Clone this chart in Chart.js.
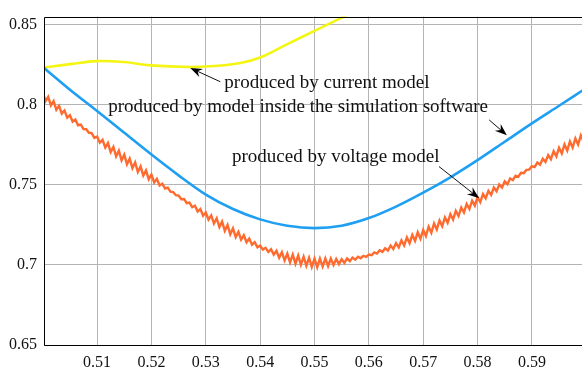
<!DOCTYPE html>
<html>
<head>
<meta charset="utf-8">
<script src="https://cdn.jsdelivr.net/npm/chart.js@4.4.1/dist/chart.umd.min.js"></script>
<style>
  html, body { margin: 0; padding: 0; background: #fff; }
</style>
</head>
<body>
<canvas id="chart" width="582" height="371"></canvas>
<script>
// axis ranges and ticks
const xMin = 0.50023, xMax = 0.59922;
const yMin = 0.65, yMax = 0.8552;
const xTicks = [0.51, 0.52, 0.53, 0.54, 0.55, 0.56, 0.57, 0.58, 0.59];
const yTicks = [0.65, 0.7, 0.75, 0.8, 0.85];

// yellow: current model
const currentX = [0.50023, 0.505, 0.51, 0.515, 0.5198, 0.5271, 0.5314, 0.5364, 0.54, 0.545, 0.55, 0.5553, 0.557];
const currentY = [0.8233, 0.8255, 0.8274, 0.8268, 0.8247, 0.8237, 0.8243, 0.8262, 0.8296, 0.8380, 0.8463, 0.8550, 0.8578];

// blue: model inside the simulation software
const simX = [0.50023, 0.505, 0.51, 0.515, 0.52, 0.525, 0.53, 0.535, 0.54, 0.545, 0.55, 0.555, 0.56, 0.565, 0.57, 0.575, 0.58, 0.585, 0.59, 0.595, 0.5993];
const simY = [0.8231, 0.8095, 0.7962, 0.7826, 0.7690, 0.7560, 0.7440, 0.7350, 0.7285, 0.7245, 0.7230, 0.7245, 0.7293, 0.7365, 0.7452, 0.7548, 0.7655, 0.7770, 0.7885, 0.7995, 0.8090];

// orange: voltage model (with ripple)
const voltX = [
  0.5000,0.5005,0.5010,0.5015,0.5020,0.5025,0.5030,0.5035,0.5040,0.5045,0.5050,0.5055,0.5060,0.5065,0.5070,0.5075,0.5080,0.5085,0.5090,0.5095,
  0.5100,0.5105,0.5110,0.5115,0.5120,0.5125,0.5130,0.5135,0.5140,0.5145,0.5150,0.5155,0.5160,0.5165,0.5170,0.5175,0.5180,0.5185,0.5190,0.5195,
  0.5200,0.5205,0.5210,0.5215,0.5220,0.5225,0.5230,0.5235,0.5240,0.5245,0.5250,0.5255,0.5260,0.5265,0.5270,0.5275,0.5280,0.5285,0.5290,0.5295,
  0.5300,0.5305,0.5310,0.5315,0.5320,0.5325,0.5330,0.5335,0.5340,0.5345,0.5350,0.5355,0.5360,0.5365,0.5370,0.5375,0.5380,0.5385,0.5390,0.5395,
  0.5400,0.5405,0.5410,0.5415,0.5420,0.5425,0.5430,0.5435,0.5440,0.5445,0.5450,0.5455,0.5460,0.5465,0.5470,0.5475,0.5480,0.5485,0.5490,0.5495,
  0.5500,0.5505,0.5510,0.5515,0.5520,0.5525,0.5530,0.5535,0.5540,0.5545,0.5550,0.5555,0.5560,0.5565,0.5570,0.5575,0.5580,0.5585,0.5590,0.5595,
  0.5600,0.5605,0.5610,0.5615,0.5620,0.5625,0.5630,0.5635,0.5640,0.5645,0.5650,0.5655,0.5660,0.5665,0.5670,0.5675,0.5680,0.5685,0.5690,0.5695,
  0.5700,0.5705,0.5710,0.5715,0.5720,0.5725,0.5730,0.5735,0.5740,0.5745,0.5750,0.5755,0.5760,0.5765,0.5770,0.5775,0.5780,0.5785,0.5790,0.5795,
  0.5800,0.5805,0.5810,0.5815,0.5820,0.5825,0.5830,0.5835,0.5840,0.5845,0.5850,0.5855,0.5860,0.5865,0.5870,0.5875,0.5880,0.5885,0.5890,0.5895,
  0.5900,0.5905,0.5910,0.5915,0.5920,0.5925,0.5930,0.5935,0.5940,0.5945,0.5950,0.5955,0.5960,0.5965,0.5970,0.5975,0.5980,0.5985,0.5990,0.5995
];
const voltY = [
  0.8078,0.8024,0.8051,0.7997,0.8024,0.7970,0.7994,0.7946,0.7965,0.7920,0.7936,0.7896,0.7908,0.7873,0.7877,0.7849,0.7848,0.7826,0.7824,0.7794,
  0.7802,0.7764,0.7782,0.7734,0.7762,0.7706,0.7738,0.7679,0.7714,0.7654,0.7689,0.7629,0.7665,0.7605,0.7641,0.7581,0.7616,0.7559,0.7591,0.7536,
  0.7565,0.7516,0.7538,0.7497,0.7508,0.7478,0.7483,0.7458,0.7455,0.7436,0.7433,0.7411,0.7412,0.7386,0.7390,0.7361,0.7370,0.7334,0.7349,0.7308,
  0.7328,0.7284,0.7310,0.7259,0.7291,0.7237,0.7271,0.7213,0.7250,0.7192,0.7229,0.7174,0.7207,0.7158,0.7186,0.7142,0.7165,0.7127,0.7143,0.7111,
  0.7121,0.7096,0.7107,0.7082,0.7098,0.7065,0.7089,0.7045,0.7080,0.7028,0.7071,0.7016,0.7065,0.7008,0.7059,0.7001,0.7052,0.6995,0.7045,0.6988,
  0.7039,0.6986,0.7040,0.6990,0.7041,0.6993,0.7040,0.7000,0.7037,0.7005,0.7036,0.7013,0.7041,0.7024,0.7046,0.7033,0.7052,0.7042,0.7057,0.7051,
  0.7065,0.7061,0.7079,0.7071,0.7092,0.7082,0.7105,0.7090,0.7121,0.7100,0.7136,0.7110,0.7154,0.7122,0.7172,0.7136,0.7188,0.7150,0.7204,0.7164,
  0.7219,0.7181,0.7239,0.7201,0.7259,0.7221,0.7278,0.7242,0.7297,0.7263,0.7317,0.7284,0.7338,0.7306,0.7359,0.7328,0.7381,0.7350,0.7402,0.7371,
  0.7424,0.7393,0.7443,0.7416,0.7463,0.7438,0.7484,0.7461,0.7503,0.7484,0.7522,0.7505,0.7540,0.7530,0.7558,0.7551,0.7576,0.7574,0.7594,0.7596,
  0.7617,0.7612,0.7640,0.7627,0.7664,0.7644,0.7687,0.7661,0.7711,0.7679,0.7732,0.7697,0.7753,0.7715,0.7772,0.7734,0.7791,0.7753,0.7810,0.7772
];

// annotation texts and arrows (data coordinates)
const notes = [
  { text: 'produced by current model', x: 0.53341, y: 0.8139, from: [0.53267, 0.8145], to: [0.52714, 0.8231] },
  { text: 'produced by model inside the simulation software', x: 0.51203, y: 0.79862, from: [0.58213, 0.79067], to: [0.58539, 0.78107] },
  { text: 'produced by voltage model', x: 0.53483, y: 0.76743, from: [0.57291, 0.76150], to: [0.58029, 0.74174] }
];

const pts = (xs, ys) => xs.map((x, i) => ({ x: x, y: ys[i] }));
const fmt = v => String(+v.toFixed(2));
const serif = '"Liberation Serif", "Times New Roman", serif';

// frame (top/left/bottom) + annotations
const extras = {
  id: 'extras',
  afterDraw(chart) {
    const ctx = chart.ctx;
    const a = chart.chartArea;
    const xs = chart.scales.x, ys = chart.scales.y;
    const l = Math.round(a.left) + 0.5, t = Math.round(a.top) + 0.5, b = Math.round(a.bottom) + 0.5;
    ctx.save();
    ctx.strokeStyle = '#000';
    ctx.lineWidth = 1;
    ctx.beginPath();
    ctx.moveTo(a.right, t);
    ctx.lineTo(l, t);
    ctx.lineTo(l, b);
    ctx.lineTo(a.right, b);
    ctx.stroke();

    ctx.font = '19px ' + serif;
    ctx.fillStyle = '#111';
    ctx.textBaseline = 'middle';
    ctx.textAlign = 'left';
    notes.forEach(n => {
      ctx.fillText(n.text, xs.getPixelForValue(n.x), ys.getPixelForValue(n.y));
      const x0 = xs.getPixelForValue(n.from[0]), y0 = ys.getPixelForValue(n.from[1]);
      const x1 = xs.getPixelForValue(n.to[0]), y1 = ys.getPixelForValue(n.to[1]);
      const ang = Math.atan2(y1 - y0, x1 - x0);
      ctx.beginPath();
      ctx.moveTo(x0, y0);
      ctx.lineTo(x1 - 6 * Math.cos(ang), y1 - 6 * Math.sin(ang));
      ctx.strokeStyle = '#111';
      ctx.lineWidth = 1;
      ctx.stroke();
      // arrow head
      ctx.save();
      ctx.translate(x1, y1);
      ctx.rotate(ang);
      ctx.beginPath();
      ctx.moveTo(0, 0);
      ctx.lineTo(-12, -4.5);
      ctx.lineTo(-8, 0);
      ctx.lineTo(-12, 4.5);
      ctx.closePath();
      ctx.fillStyle = '#000';
      ctx.fill();
      ctx.restore();
    });
    ctx.restore();
  }
};

new Chart(document.getElementById('chart'), {
  type: 'line',
  data: {
    datasets: [
      {
        label: 'voltage model',
        data: pts(voltX, voltY),
        borderColor: '#ff6a2e',
        borderWidth: 2.4,
        pointRadius: 0,
        tension: 0
      },
      {
        label: 'simulation software',
        data: pts(simX, simY),
        borderColor: '#1e9ff2',
        borderWidth: 2.6,
        pointRadius: 0,
        cubicInterpolationMode: 'monotone'
      },
      {
        label: 'current model',
        data: pts(currentX, currentY),
        borderColor: '#f5f514',
        borderWidth: 2.6,
        pointRadius: 0,
        tension: 0.4
      }
    ]
  },
  options: {
    responsive: false,
    animation: false,
    layout: { padding: { top: 9, right: 0, left: 0, bottom: 0 } },
    plugins: { legend: { display: false }, tooltip: { enabled: false } },
    scales: {
      x: {
        type: 'linear',
        min: xMin,
        max: xMax,
        afterBuildTicks: s => { s.ticks = xTicks.map(v => ({ value: v })); },
        afterFit: s => { s.height = 26; },
        grid: { color: '#b4b4b4', drawTicks: false },
        border: { display: false },
        ticks: {
          callback: fmt,
          autoSkip: false,
          maxRotation: 0,
          padding: 8,
          color: '#111',
          font: { family: serif, size: 16 }
        }
      },
      y: {
        min: yMin,
        max: yMax,
        afterBuildTicks: s => { s.ticks = yTicks.map(v => ({ value: v })); },
        afterFit: s => { s.width = 44; },
        grid: { color: '#b4b4b4', drawTicks: false },
        border: { display: false },
        ticks: {
          callback: fmt,
          padding: 7,
          color: '#111',
          font: { family: serif, size: 16 }
        }
      }
    }
  },
  plugins: [extras]
});
</script>
</body>
</html>
